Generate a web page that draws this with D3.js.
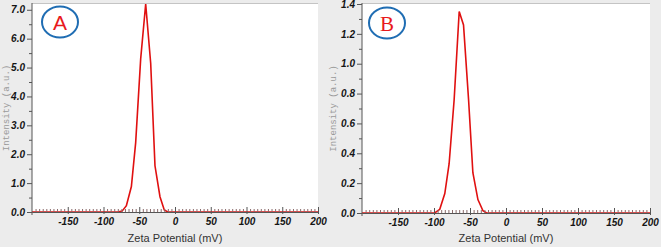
<!DOCTYPE html>
<html><head><meta charset="utf-8">
<script src="https://cdn.jsdelivr.net/npm/d3@7/dist/d3.min.js"></script>
<style>
html,body{margin:0;padding:0;background:#ececec;}
svg{display:block;}
</style>
</head><body>
<svg id="chart" width="661" height="247"></svg>
<script>
// ---- data ----
const zetaA = [-200, -80, -74, -68, -61, -55, -48, -41, -34, -28, -21, -15, -10, 200];
const intensityA = [0, 0, 0.03, 0.22, 0.88, 2.4, 5.3, 7.2, 5.15, 1.6, 0.53, 0.07, 0, 0];
const zetaB = [-200, -99, -92, -85, -79, -72, -65, -59, -52, -46, -39, -32, -27, 200];
const intensityB = [0, 0, 0.025, 0.13, 0.33, 0.76, 1.35, 1.26, 0.76, 0.27, 0.09, 0.015, 0, 0];
const xTicks = [-150, -100, -50, 0, 50, 100, 150, 200];
const yTicksA = [0, 1, 2, 3, 4, 5, 6, 7];
const yTicksB = [0, 0.2, 0.4, 0.6, 0.8, 1.0, 1.2, 1.4];
const panelLabels = ["A", "B"];
const xTitle = "Zeta Potential (mV)";
const yTitle = "Intensity (a.u.)";

const SANS = "'Liberation Sans', Arial, sans-serif";
const SERIF = "'Liberation Serif', 'Times New Roman', serif";
const MONO = "'Liberation Mono', 'Courier New', monospace";

const svg = d3.select("#chart");

function panel(cfg) {
  const g = svg.append("g");
  const x = d3.scaleLinear().domain([-200, 200]).range([cfg.left, cfg.right]);
  const y = d3.scaleLinear().domain([0, cfg.ymax]).range([cfg.bottom, cfg.top]);

  g.append("rect").attr("x", cfg.left).attr("y", cfg.top - 1)
    .attr("width", cfg.right - cfg.left).attr("height", cfg.bottom - cfg.top + 1)
    .attr("fill", "#ffffff");
  g.append("line").attr("x1", cfg.left).attr("x2", cfg.right)
    .attr("y1", cfg.top - 0.5).attr("y2", cfg.top - 0.5)
    .attr("stroke", "#c4c4c4").attr("stroke-width", 1);

  const clipId = "clip" + cfg.name;
  svg.append("clipPath").attr("id", clipId).append("rect")
    .attr("x", cfg.left).attr("y", cfg.top - 1)
    .attr("width", cfg.right - cfg.left + 2).attr("height", cfg.bottom - cfg.top + 3);

  const data = cfg.xs.map((v, i) => [v, cfg.ys[i]]);
  g.append("path").datum(data)
    .attr("clip-path", `url(#${clipId})`)
    .attr("fill", "none").attr("stroke", "#e01010").attr("stroke-width", 1.6)
    .attr("d", d3.line().x(d => x(d[0])).y(d => y(d[1])));

  const minor = d3.range(-195, 201, 5).filter(v => v % 50 !== 0);
  const xMinor = g.append("g").attr("transform", `translate(0,${cfg.bottom})`)
    .call(d3.axisTop(x).tickValues(minor).tickSize(3).tickFormat(""));
  xMinor.select(".domain").remove();
  xMinor.selectAll(".tick line").attr("stroke", "#8a6a6a").attr("stroke-width", 1);

  const xAx = g.append("g").attr("transform", `translate(0,${cfg.bottom})`)
    .call(d3.axisBottom(x).tickValues(xTicks).tickSize(2).tickSizeOuter(0).tickPadding(4)
      .tickFormat(d3.format("d")));
  xAx.select(".domain").attr("stroke", "#555");
  xAx.selectAll(".tick line").attr("y1", -5).attr("y2", 2).attr("stroke", "#555");
  xAx.selectAll(".tick text")
    .attr("font-family", SANS)
    .attr("font-size", 10).attr("font-weight", "bold").attr("font-style", "italic")
    .attr("fill", "#151515").text(d => d < 0 ? "-" + Math.abs(d) : d);

  const yMinorVals = d3.range(cfg.minorStep, cfg.ymax + 1e-9, cfg.minorStep)
    .filter(v => Math.abs(v / cfg.majorStep - Math.round(v / cfg.majorStep)) > 1e-6);
  const yMinor = g.append("g").attr("transform", `translate(${cfg.left},0)`)
    .call(d3.axisLeft(y).tickValues(yMinorVals).tickSize(3).tickFormat(""));
  yMinor.select(".domain").remove();
  yMinor.selectAll(".tick line").attr("stroke", "#555");

  const yAx = g.append("g").attr("transform", `translate(${cfg.left},0)`)
    .call(d3.axisLeft(y).tickValues(cfg.yTicks).tickSize(5).tickSizeOuter(0).tickPadding(2)
      .tickFormat(d3.format(".1f")));
  yAx.select(".domain").attr("stroke", "#555")
    .attr("d", `M0,${cfg.top - 1}V${cfg.bottom + 3}`);
  yAx.selectAll(".tick line").attr("stroke", "#555");
  yAx.selectAll(".tick text")
    .attr("font-family", SANS)
    .attr("font-size", 10).attr("font-weight", "bold").attr("font-style", "italic")
    .attr("fill", "#151515");

  g.append("text").attr("x", (cfg.left + cfg.right) / 2).attr("y", 242)
    .attr("text-anchor", "middle")
    .attr("font-family", SANS).attr("font-size", 11)
    .attr("fill", "#333").text(xTitle);
  g.append("text")
    .attr("transform", `translate(${cfg.ylabX},${(cfg.top + cfg.bottom) / 2}) rotate(-90)`)
    .attr("text-anchor", "middle").attr("dominant-baseline", "middle")
    .attr("font-family", MONO).attr("font-size", 9)
    .attr("fill", "#9a9a9a").text(yTitle);

  g.append("ellipse").attr("cx", cfg.lx).attr("cy", cfg.ly).attr("rx", 18).attr("ry", 15.5)
    .attr("fill", "none").attr("stroke", "#1f6db3").attr("stroke-width", 2);
  g.append("text").attr("x", cfg.lx).attr("y", cfg.ly + 7.5)
    .attr("text-anchor", "middle").attr("font-family", cfg.letterFont)
    .attr("font-size", 21).attr("fill", "#e8191c").text(cfg.name);
}

panel({name: panelLabels[0], left: 32, right: 318, top: 4, bottom: 212, ymax: 7.2,
  majorStep: 1, minorStep: 0.5, yTicks: yTicksA, xs: zetaA, ys: intensityA,
  ylabX: 7, lx: 60, ly: 22, letterFont: SANS});
panel({name: panelLabels[1], left: 362, right: 650, top: 4, bottom: 213, ymax: 1.4,
  majorStep: 0.2, minorStep: 0.1, yTicks: yTicksB, xs: zetaB, ys: intensityB,
  ylabX: 334, lx: 387, ly: 23, letterFont: SERIF});
</script>
</body></html>
